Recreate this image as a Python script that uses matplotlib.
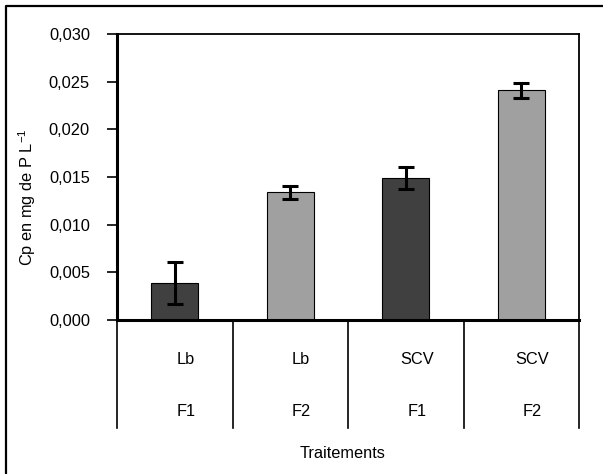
import matplotlib
matplotlib.use("Agg")
import matplotlib.pyplot as plt
from matplotlib.lines import Line2D
import numpy as np

plt.rcParams['font.family'] = ['Liberation Sans', 'DejaVu Sans']
plt.rcParams['mathtext.default'] = 'regular'

# data
sols = ['Lb', 'Lb', 'SCV', 'SCV']
formes = ['F1', 'F2', 'F1', 'F2']
cp_vals = [0.0039, 0.0134, 0.0149, 0.0241]
cp_err = [0.0022, 0.0007, 0.0012, 0.0008]
bar_colors = ['#404040', '#a0a0a0', '#404040', '#a0a0a0']
yticks = [0.0, 0.005, 0.010, 0.015, 0.020, 0.025, 0.030]
ytick_labels = ['0,000', '0,005', '0,010', '0,015', '0,020', '0,025', '0,030']

W, H = 603, 474
fig = plt.figure(figsize=(W / 100, H / 100), dpi=100)
ax = fig.add_axes([117 / W, (H - 320) / H, 462 / W, 286 / H])

x = np.arange(len(cp_vals))
ax.bar(x, cp_vals, width=0.41, color=bar_colors, edgecolor='black', linewidth=0.8, zorder=2)
ax.errorbar(x, cp_vals, yerr=cp_err, fmt='none', ecolor='black',
            elinewidth=2.2, capsize=6, capthick=2.2, zorder=3)

ax.set_xlim(-0.5, len(cp_vals) - 0.5)
ax.set_ylim(0, 0.030)
ax.set_yticks(yticks)
ax.set_yticklabels(ytick_labels, fontsize=11.8)
ax.set_xticks([])
ax.tick_params(axis='y', direction='out', length=7.5, width=1.2, pad=12)

ax.spines['left'].set_linewidth(2.2)
ax.spines['bottom'].set_linewidth(2.2)
ax.spines['top'].set_linewidth(1.3)
ax.spines['right'].set_linewidth(1.3)

# category table below the axis
tr = ax.get_xaxis_transform()
for b in np.arange(-0.5, len(cp_vals), 1.0):
    ax.plot([b, b], [0, -108 / 286], transform=tr, color='black', lw=1.2, clip_on=False)
for i in range(len(cp_vals)):
    ax.text(i + 0.095, -40 / 286, sols[i], transform=tr, ha='center', va='center', fontsize=11.8)
    ax.text(i + 0.095, -92 / 286, formes[i], transform=tr, ha='center', va='center', fontsize=11.8)

fig.text(343 / W, (H - 454) / H, 'Traitements', ha='center', va='center', fontsize=11.8)
fig.text(27 / W, (H - 197) / H, 'Cp en mg de P L$^{-1}$', rotation=90,
         ha='center', va='center', fontsize=11.8)

# outer frame (left and top only visible)
fig.add_artist(Line2D([5.5 / W, 5.5 / W, 1], [0, 1 - 6 / H, 1 - 6 / H],
                      transform=fig.transFigure, color='black', lw=1.6))

fig.savefig('out.png', dpi=100)
